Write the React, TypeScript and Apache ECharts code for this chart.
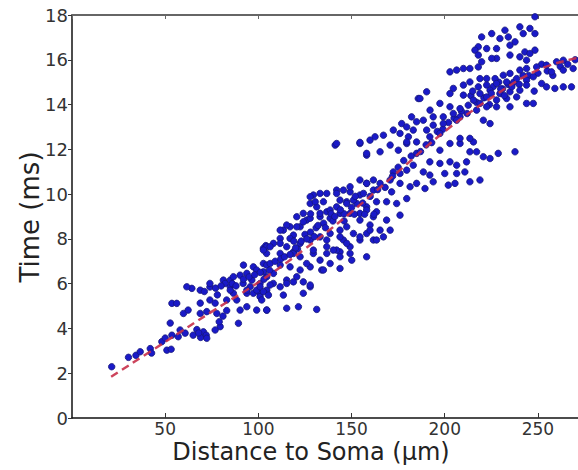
import React, { useEffect, useRef } from "react";
import * as echarts from "echarts";

// Fitted (dashed) curve
const fitX = [21, 50, 75, 100, 125, 150, 175, 200, 225, 250, 272];
const fitY = [1.84, 3.4, 4.75, 6.06, 7.55, 9.2, 11.0, 12.8, 14.3, 15.55, 16.1];

// Measured points: [distance to soma (µm), time (ms)]
const lowPoints: [number, number][] = [
  [21.3, 2.29], [30.3, 2.71], [34.3, 2.8], [36.6, 2.96], [42, 3.1], [42.7, 2.9], [50.9, 3.03], [53.2, 3.07],
  [48.2, 3.41], [50, 3.57], [53.6, 3.7], [57, 3.63], [58, 3.93], [52.7, 4.24], [60.7, 3.79], [65, 3.7],
  [67, 3.95], [69, 3.6], [70.5, 3.85], [72, 3.7], [68, 3.8], [59.8, 4.67], [62.3, 4.82], [53.6, 5.12],
  [56.2, 5.12], [68.8, 4.67], [72.3, 4.75], [68.8, 5.13], [74, 5.27], [76.8, 5.13], [77.7, 4.67], [79.5, 4.08],
  [76.8, 3.93], [72.3, 3.56], [79, 4.3], [81, 4.55], [83, 4.8], [64.3, 5.79], [68.8, 5.71], [71, 5.65],
  [74, 5.85], [77, 5.8], [61.6, 5.86], [74, 6.01], [81.2, 6.16],
];

const midLowPoints: [number, number][] = [
  [82.2, 6.01], [84.9, 6.16], [86.6, 6.31], [90.2, 6.38], [92, 6.83], [97.3, 6.75], [99.1, 6.61], [102.7, 6.9],
  [104.5, 6.31], [100.9, 6.01], [100.9, 5.57], [99.1, 4.82], [90.2, 4.82], [93.8, 4.97], [86.6, 5.57], [88.4, 5.27],
  [83, 5.27], [84.9, 5.86], [95.6, 5.86], [104.5, 5.71], [104.5, 4.82], [89.3, 4.23], [93.8, 5.57], [97.3, 5.57],
  [99.1, 5.71], [91.8, 6.01], [96.5, 6.16], [100.9, 5.42], [93.8, 6.46], [104.5, 6.83], [84.9, 5.71], [93.8, 5.71],
  [100.9, 5.86], [108, 6.01], [115.2, 6.16], [120.6, 6.31], [124.1, 6.08], [127.8, 5.86],
  [104.4, 7.35], [111.7, 7.35], [118.8, 7.42], [122.4, 7.2], [129.5, 7.35], [136.7, 7.35], [143.8, 7.42], [149.2, 7.35],
  [158.1, 7.2], [150.1, 7.05], [143.8, 6.68], [138.5, 6.9], [134, 6.61], [127.8, 6.75], [122.4, 6.61], [117, 6.75],
  [111.7, 6.83], [106.3, 6.9], [102.7, 6.53], [108.1, 6.46], [115.2, 6.01], [118.8, 6.08], [111.7, 5.86], [106.3, 5.94],
  [102.7, 5.64], [105.4, 5.49], [113.4, 5.49], [127.8, 5.94], [124.1, 5.57], [104.5, 4.82], [115.2, 4.9], [121.5, 4.97],
  [131.3, 4.85], [101.8, 5.27], [102.7, 7.58], [104, 7.7],
];

const midPoints: [number, number][] = [
  [141.2, 12.19], [154.5, 12.26], [158.1, 11.74], [165.3, 11.89], [170.7, 12.19], [175.1, 11.96], [179.6, 12.26], [184.9, 12.33],
  [184.9, 11.82], [183.1, 11.29], [179.6, 11.07], [176, 10.92], [172.4, 10.99], [170.7, 10.63], [176, 10.48], [181.4, 10.33],
  [184.9, 10.48], [165.3, 10.48], [161.7, 10.63], [158.1, 10.48], [171.5, 10.1], [179.6, 9.8], [174.2, 9.58], [168.8, 9.66],
  [163.4, 9.66], [154.5, 9.96], [149.2, 10.1], [142, 10.18], [136.7, 10.03], [129.5, 9.96], [134.9, 9.66], [143.8, 9.73],
  [147.4, 9.66], [152.8, 9.58], [158.1, 9.43], [163.4, 9.21], [168.8, 8.84], [176, 9.06], [170.7, 8.39], [165.3, 8.39],
  [159.9, 8.62], [154.5, 9.14], [149.2, 9.14], [143.8, 9.14], [136.7, 9.21], [131.3, 9.43], [127.8, 9.58], [124.1, 9.14],
  [120.6, 8.99], [125.9, 8.84], [133.1, 8.99], [138.5, 8.92], [122.4, 8.54], [117, 8.54], [113.4, 8.39], [118.8, 8.17],
  [111.7, 8.02], [108.1, 7.8], [104.5, 7.65], [115.2, 7.65], [122.4, 7.8], [127.8, 7.95], [133.1, 8.09], [138.5, 8.24],
  [143.8, 8.39], [145.6, 7.95], [151, 8.24], [154.5, 7.95], [158.1, 8.24], [161.7, 7.95], [167.1, 8.09], [136.7, 7.65],
  [129.5, 7.5], [142, 7.5], [149.2, 7.65], [118.8, 7.35], [102.7, 7.5], [106.3, 7.65], [111.7, 7.8], [117, 8.02],
  [111.7, 8.39], [115.2, 8.62], [120.6, 8.54], [124.1, 8.76], [127.8, 8.92], [133.1, 9.14], [138.5, 9.29], [142, 9.43],
  [147.4, 9.58], [151, 9.73], [156.4, 10.03], [161.7, 10.18], [158.1, 10.48], [154.5, 10.63], [127.8, 9.88], [133.1, 10.03],
  [130.5, 9.66], [142, 10.03], [145.6, 10.18], [149.2, 10.33], [158.1, 11.82], [158.1, 9.29], [161.7, 8.99], [154.5, 8.84],
  [147.4, 8.54], [143.8, 8.09], [136.7, 7.95], [125.9, 6.9], [133.1, 7.05], [140.2, 7.5], [147.4, 7.8], [154.5, 8.09],
  [159.9, 8.39], [163.4, 7.95], [143.8, 7.2], [134.9, 6.61], [128, 9.12], [139, 9.12], [146, 9.12], [151.5, 9.1],
  [157, 9.1], [162, 9.1], [119, 7.9], [125, 8.2], [131, 8.5], [128, 8.3], [121, 7.55], [135, 8.7],
];

const bandPoints: [number, number][] = [
  [78, 5.5], [80, 5.9], [86, 6.0], [88, 5.9], [92, 6.2], [95, 6.3], [98, 6.4], [101, 6.5],
  [103, 6.2], [106, 6.6], [109, 7.0], [112, 7.1], [114, 7.2], [117, 7.3], [120, 7.6], [123, 7.9],
  [126, 8.0], [130, 8.1], [132, 8.6], [136, 8.5], [140, 8.8], [141, 9.0], [144, 9.3], [146, 8.8],
  [150, 9.4], [152, 9.9], [156, 9.6], [160, 9.9], [164, 10.2], [168, 10.3], [172, 10.8], [175, 11.2],
  [178, 11.5], [182, 11.7], [187, 11.9], [190, 12.2], [193, 12.3], [196, 12.8], [199, 12.9], [202, 13.2],
  [205, 13.4], [209, 13.7], [212, 13.6], [214, 14.4], [217, 14.1], [221, 14.3], [224, 14.0], [226, 14.8],
  [229, 15.0], [231, 14.7], [234, 14.9], [237, 15.0], [240, 14.9], [242, 15.3], [245, 15.3], [250, 15.4],
  [255, 15.5], [252, 15.8], [258, 15.3], [262, 15.7], [266, 15.8], [270, 16.0],
];

const upperPoints: [number, number][] = [
  [197.4, 11.96], [202.8, 12.26], [208.2, 12.26], [215.4, 12.33], [213.5, 11.89], [217.1, 11.89], [220.7, 11.67], [224.3, 11.59],
  [228.7, 11.82], [237.7, 11.89], [192, 11.44], [197.4, 11.37], [202.8, 11.44], [206.4, 11.29], [211.7, 11.44], [188.5, 10.99],
  [192, 10.85], [200, 10.92], [206.4, 10.92], [210.8, 10.99], [193.8, 10.55], [189.4, 10.25], [201.9, 10.4], [205.5, 10.48],
  [213.5, 10.55], [218.9, 10.63],
  [185.8, 14.27], [182.2, 13.45], [176.9, 13.15], [179.6, 13], [184.9, 13.23], [172.4, 12.86], [167.1, 12.63], [162.6, 12.56],
  [159.9, 12.41], [154.5, 12.31], [176, 12.71], [180.5, 12.56], [183.1, 12.86], [179.6, 12.33], [142, 12.26],
];

const topPoints: [number, number][] = [
  [248.4, 17.92], [256.4, 18.07], [268.9, 18.07], [240.3, 17.47], [245.7, 17.4], [248.4, 17.17], [242.1, 17.17], [232.3, 17.32],
  [225.2, 17.17], [219.8, 17.02], [229.6, 16.95], [234.1, 17.02], [237.7, 16.8], [235, 16.65], [218, 16.58], [222.5, 16.5],
  [227.8, 16.5], [216.2, 16.43], [248.4, 16.43], [243, 16.35], [245.7, 16.28], [218, 16.21], [235, 16.21], [240.3, 16.13],
  [227.8, 16.06], [219.8, 15.91], [225.2, 16.06], [243.9, 15.98], [202.8, 15.46], [206.4, 15.54], [210, 15.61], [213.5, 15.61],
  [218, 15.68], [222.5, 15.16], [227, 15.16], [231.4, 15.31], [235, 15.39], [240.3, 15.54], [243.9, 15.61], [249.3, 15.68],
  [254.6, 15.76], [260, 15.91], [263.6, 15.98], [257.3, 15.46], [263.6, 15.54], [268.9, 15.61], [218.9, 15.16], [218, 14.79],
  [222.5, 14.87], [227.8, 14.94], [233.2, 15.01], [238.6, 15.16], [243.9, 15.09], [247.5, 15.24], [243.9, 14.87], [252, 14.94],
  [254.6, 14.79], [259.1, 14.72], [263.6, 14.79], [268, 14.79], [240.3, 14.64], [235, 14.57], [229.6, 14.49], [224.3, 14.64],
  [227.8, 14.2], [233.2, 14.27], [238.6, 14.34], [243.9, 14.05], [247.5, 14.05], [222.5, 14.34], [218.9, 14.49], [215.4, 14.2],
  [210, 14.42], [204.6, 14.72], [210, 14.87], [213.5, 15.01], [202.8, 14.49], [190.3, 14.57], [186.7, 14.27], [197.4, 14.05],
  [202.8, 13.9], [208.2, 13.82], [212.6, 13.97], [218.9, 14.05], [222.5, 13.9], [227.8, 13.9], [235, 13.9], [217.1, 13.75],
  [192.1, 13.75], [193.8, 13.45], [199.2, 13.45], [204.6, 13.6], [208.2, 13.45], [188.5, 13.3], [193.8, 13.08], [199.2, 13.15],
  [206.4, 13.3], [220.7, 13.3], [224.3, 13.15], [197.4, 12.71], [192, 12.56], [208.2, 12.49], [213.5, 12.49], [190.3, 12.86],
  [230, 14.7], [236, 14.8], [225, 14.5], [232, 14.4], [215, 14.6], [248, 14.6],
];

const allPoints = [...lowPoints, ...midLowPoints, ...midPoints, ...bandPoints, ...upperPoints, ...topPoints];

const FONT = "DejaVu Sans";

export default function App() {
  const ref = useRef<HTMLDivElement>(null);
  useEffect(() => {
    if (!ref.current) return;
    const chart = echarts.init(ref.current, undefined, { renderer: "svg" });
    chart.setOption({
      animation: false,
      backgroundColor: "#ffffff",
      grid: { left: 72, top: 15, right: 0, bottom: 52 },
      xAxis: [
        {
          type: "value",
          min: 0,
          max: 271.5,
          interval: 50,
          position: "bottom",
          axisLine: { show: true, lineStyle: { color: "#111", width: 1.5 } },
          axisTick: { show: true, inside: true, length: 5, lineStyle: { color: "#333" } },
          axisLabel: { showMinLabel: false, showMaxLabel: false, fontSize: 17, color: "#333", fontFamily: FONT, margin: 2 },
          splitLine: { show: false },
        },
        {
          type: "value",
          min: 0,
          max: 271.5,
          interval: 50,
          position: "top",
          axisLine: { show: true, lineStyle: { color: "#666", width: 2 } },
          axisTick: { show: true, inside: true, length: 4, lineStyle: { color: "#666" } },
          axisLabel: { show: false },
          splitLine: { show: false },
        },
      ],
      yAxis: {
        type: "value",
        min: 0,
        max: 18,
        interval: 2,
        axisLine: { show: true, lineStyle: { color: "#111", width: 1.5 } },
        axisTick: { show: true, length: 4, lineStyle: { color: "#333" } },
        axisLabel: { fontSize: 18, color: "#333", fontFamily: FONT, margin: 4 },
        splitLine: { show: false },
      },
      graphic: [
        {
          type: "text",
          x: 311,
          y: 452,
          style: { text: "Distance to Soma (µm)", font: `24px '${FONT}'`, fill: "#222", align: "center", verticalAlign: "middle" },
        },
        {
          type: "text",
          x: 30,
          y: 217,
          rotation: Math.PI / 2,
          style: { text: "Time (ms)", font: `26px '${FONT}'`, fill: "#222", align: "center", verticalAlign: "middle" },
        },
      ],
      series: [
        {
          type: "scatter",
          xAxisIndex: 0,
          data: allPoints,
          symbol: "circle",
          symbolSize: 6.5,
          itemStyle: { color: "#1a1ac8", borderColor: "#15157a", borderWidth: 0.8, opacity: 1 },
          z: 2,
        },
        {
          type: "line",
          xAxisIndex: 0,
          data: fitX.map((x, i) => [x, fitY[i]]),
          smooth: 0.4,
          showSymbol: false,
          lineStyle: { color: "#c8304a", width: 2.5, type: [8, 5], opacity: 0.9 },
          z: 3,
        },
      ],
    });
    return () => chart.dispose();
  }, []);
  return <div ref={ref} style={{ position: "fixed", left: 0, top: 0, width: 578, height: 470 }} />;
}
